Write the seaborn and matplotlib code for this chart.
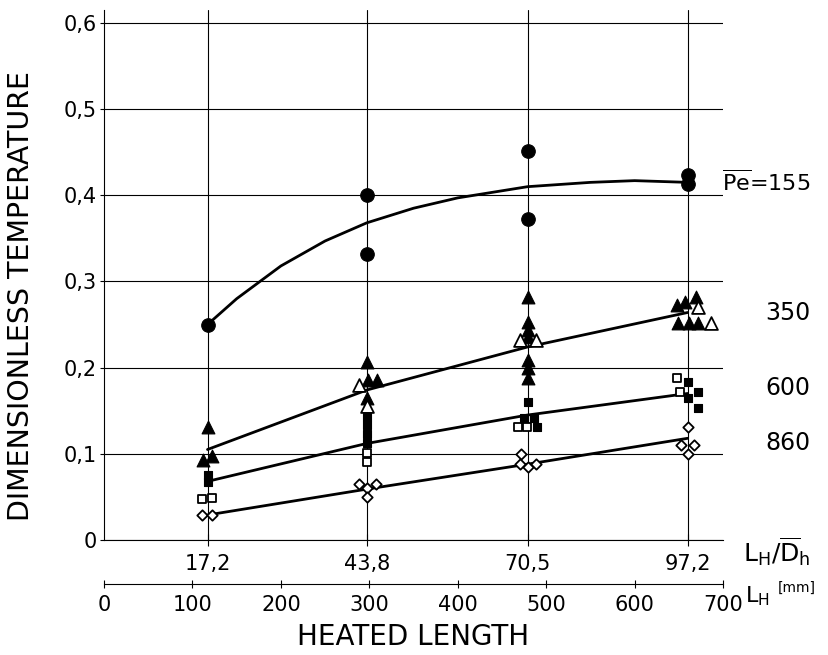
import matplotlib
matplotlib.use("Agg")
import matplotlib.pyplot as plt
import seaborn as sns

# ── Axis definitions ─────────────────────────────────────────────────────────
STATION_MM     = [117, 297, 479, 660]
STATION_LABELS = ["17,2", "43,8", "70,5", "97,2"]
Y_TICKS        = [0, 0.1, 0.2, 0.3, 0.4, 0.5, 0.6]
Y_LABELS       = ["0", "0,1", "0,2", "0,3", "0,4", "0,5", "0,6"]
MM_TICKS       = [0, 100, 200, 300, 400, 500, 600, 700]

# ── Measured points (x in mm heated length, y dimensionless temperature) ────
# Pe = 155, filled circles
pe155_x = [117, 297, 297, 479, 479, 660, 660]
pe155_y = [0.25, 0.40, 0.332, 0.451, 0.372, 0.423, 0.413]

# Pe = 350, filled / open triangles
pe350_fill_x = [117, 112, 122, 297, 299, 309, 297,
                479, 479, 479, 479, 479, 479, 479,
                648, 657, 669, 649, 661, 672]
pe350_fill_y = [0.131, 0.093, 0.097, 0.207, 0.186, 0.186, 0.165,
                0.282, 0.253, 0.244, 0.236, 0.209, 0.200, 0.188,
                0.273, 0.276, 0.282, 0.252, 0.252, 0.252]
pe350_open_x = [288, 297, 470, 488, 672, 686]
pe350_open_y = [0.180, 0.155, 0.232, 0.232, 0.270, 0.252]

# Pe = 600, filled / open squares
pe600_fill_x = [117, 117, 297, 297, 297, 297, 479, 475, 486, 490,
                660, 672, 660, 672]
pe600_fill_y = [0.075, 0.067, 0.143, 0.133, 0.123, 0.113, 0.160, 0.141, 0.141, 0.131,
                0.183, 0.172, 0.165, 0.153]
pe600_open_x = [111, 122, 297, 297, 468, 478, 648, 651]
pe600_open_y = [0.048, 0.049, 0.101, 0.090, 0.131, 0.131, 0.188, 0.172]

# Pe = 860, open diamonds
pe860_x = [111, 122, 288, 297, 307, 297, 472, 470, 479, 488, 660, 653, 667, 660]
pe860_y = [0.029, 0.029, 0.065, 0.060, 0.065, 0.050, 0.100, 0.088, 0.085, 0.088,
           0.131, 0.110, 0.110, 0.100]

# ── Fitted curves ───────────────────────────────────────────────────────────
fit155_x = [117, 150, 200, 250, 297, 350, 400, 479, 550, 600, 660]
fit155_y = [0.25, 0.28, 0.318, 0.347, 0.368, 0.385, 0.397, 0.41, 0.415, 0.417, 0.415]
fit350_x = [117, 297, 479, 660]
fit350_y = [0.105, 0.174, 0.224, 0.264]
fit600_x = [117, 297, 479, 660]
fit600_y = [0.068, 0.112, 0.145, 0.170]
fit860_x = [117, 297, 479, 660]
fit860_y = [0.029, 0.059, 0.088, 0.118]

sns.set_theme(style="white")
plt.rcParams["font.family"] = ["DejaVu Sans"]
for key in ["text.color", "axes.labelcolor", "xtick.color", "ytick.color"]:
    plt.rcParams[key] = "black"

fig = plt.figure(figsize=(8.29, 6.55), dpi=100)
ax = fig.add_axes([0.1255, 0.1756, 0.7467, 0.8091])

# curves
for fx, fy in [(fit155_x, fit155_y), (fit350_x, fit350_y),
               (fit600_x, fit600_y), (fit860_x, fit860_y)]:
    sns.lineplot(x=fx, y=fy, color="black", lw=2.0, ax=ax, zorder=3)

# markers
filled = dict(color="black", edgecolor="black", linewidth=0.8, zorder=4, ax=ax)
hollow = dict(color="white", edgecolor="black", linewidth=1.3, zorder=5, ax=ax)
sns.scatterplot(x=pe155_x, y=pe155_y, marker="o", s=95, **filled)
sns.scatterplot(x=pe350_fill_x, y=pe350_fill_y, marker="^", s=85, **filled)
sns.scatterplot(x=pe350_open_x, y=pe350_open_y, marker="^", s=85, **hollow)
sns.scatterplot(x=pe600_fill_x, y=pe600_fill_y, marker="s", s=36, **filled)
sns.scatterplot(x=pe600_open_x, y=pe600_open_y, marker="s", s=36, **hollow)
sns.scatterplot(x=pe860_x, y=pe860_y, marker="D", s=28, **hollow)

# axes styling
ax.set_xlim(0, 700)
ax.set_ylim(0, 0.615)
ax.set_yticks(Y_TICKS)
ax.set_yticklabels(Y_LABELS, fontsize=15)
ax.set_xticks(STATION_MM)
ax.set_xticklabels(STATION_LABELS, fontsize=15)
ax.grid(True, color="black", lw=0.8)
for side in ["top", "right"]:
    ax.spines[side].set_visible(False)
for side in ["left", "bottom"]:
    ax.spines[side].set_color("black")
    ax.spines[side].set_linewidth(0.8)
ax.tick_params(axis="y", direction="out", length=3, width=0.8, pad=2, left=True)
ax.tick_params(axis="x", direction="inout", length=8, width=0.8, pad=6, bottom=True)
ax.set_ylabel("DIMENSIONLESS TEMPERATURE", fontsize=20.5)
ax.yaxis.set_label_coords(-0.111, 0.46)

# right-hand annotations
ax.text(699, 0.415, r"$\mathregular{\overline{Pe}}$=155", fontsize=16, ha="left", va="center")
for label, yv in [("350", 0.263), ("600", 0.176), ("860", 0.1125)]:
    ax.text(773, yv, label, fontsize=17, ha="center", va="center")
ax.text(723, -0.014, r"$\mathregular{L_H/\overline{D}_h}$", fontsize=18, ha="left", va="center")

# lower axis: heated length in mm
ax2 = fig.add_axes([0.1255, 0.1084, 0.7467, 0.0001])
ax2.set_xlim(0, 700)
ax2.set_xticks(MM_TICKS)
ax2.set_xticklabels([str(v) for v in MM_TICKS], fontsize=15)
ax2.set_yticks([])
for side in ["top", "right", "left"]:
    ax2.spines[side].set_visible(False)
ax2.spines["bottom"].set_color("black")
ax2.spines["bottom"].set_linewidth(0.8)
ax2.tick_params(axis="x", direction="inout", length=6, width=0.8, pad=5, bottom=True)
ax2.set_xlabel("HEATED LENGTH", fontsize=20, labelpad=6)
ax2.text(725, 0, r"$\mathregular{L_H}$", fontsize=16, ha="left", va="top",
         transform=ax2.get_xaxis_transform())
fig.text(778 / 829, 1 - 588 / 655, "[mm]", fontsize=10, ha="left", va="center")

fig.savefig("out.png", dpi=100)
